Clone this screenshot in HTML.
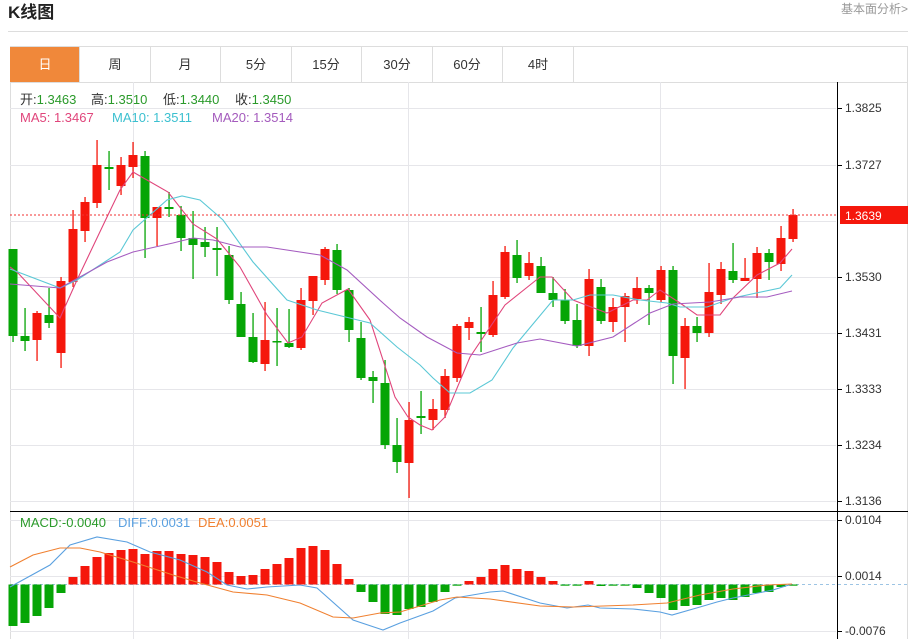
<!DOCTYPE html>
<html><head><meta charset="utf-8"><style>
body{margin:0;background:#fff;width:914px;height:639px;overflow:hidden;font-family:"Liberation Sans","Noto Sans CJK SC",sans-serif;}
svg{position:absolute;left:0;top:0}
</style></head><body>
<svg id="s" width="914" height="639" xmlns="http://www.w3.org/2000/svg" font-family="Liberation Sans, Noto Sans CJK SC, sans-serif">
<text x="8" y="18" font-size="17" font-weight="bold" fill="#222">K线图</text>
<text x="908" y="13" font-size="12" fill="#999" text-anchor="end">基本面分析&gt;</text>
<line x1="8" y1="31.5" x2="908" y2="31.5" stroke="#ddd"/>
<rect x="10.5" y="46.5" width="897" height="600" fill="none" stroke="#ddd"/>
<rect x="10" y="47" width="69" height="35" fill="#f0883a"/>
<g stroke="#ddd"><line x1="10" y1="82.5" x2="908" y2="82.5"/>
<line x1="79.5" y1="47" x2="79.5" y2="82"/><line x1="150.5" y1="47" x2="150.5" y2="82"/><line x1="220.5" y1="47" x2="220.5" y2="82"/><line x1="291.5" y1="47" x2="291.5" y2="82"/><line x1="361.5" y1="47" x2="361.5" y2="82"/><line x1="432.5" y1="47" x2="432.5" y2="82"/><line x1="502.5" y1="47" x2="502.5" y2="82"/><line x1="573.5" y1="47" x2="573.5" y2="82"/></g>
<g font-size="13" fill="#333" text-anchor="middle">
<text x="45" y="69" fill="#fff">日</text><text x="115" y="69">周</text><text x="185" y="69">月</text><text x="256" y="69">5分</text><text x="326" y="69">15分</text><text x="397" y="69">30分</text><text x="467" y="69">60分</text><text x="538" y="69">4时</text></g>
<g id="grid" stroke="#e6e6ea"></g>
<g id="c"></g>
<line x1="10" y1="511.5" x2="908" y2="511.5" stroke="#000"/>
<line x1="837.5" y1="82" x2="837.5" y2="639" stroke="#000"/>
<g font-size="12" fill="#333" id="ax"></g>
<line x1="10" y1="215" x2="836" y2="215" stroke="#f03030" stroke-width="1" stroke-dasharray="2,2"/>
<rect x="840" y="206" width="68" height="18" fill="#f5170c"/>
<text x="845" y="220" font-size="12" fill="#fff">1.3639</text>
<g font-size="13">
<text x="20" y="104" fill="#333">开:<tspan fill="#2a9a2a">1.3463</tspan></text>
<text x="91" y="104" fill="#333">高:<tspan fill="#2a9a2a">1.3510</tspan></text>
<text x="163" y="104" fill="#333">低:<tspan fill="#2a9a2a">1.3440</tspan></text>
<text x="235" y="104" fill="#333">收:<tspan fill="#2a9a2a">1.3450</tspan></text>
<text x="20" y="122" fill="#e0457b">MA5: 1.3467</text><text x="112" y="122" fill="#3cc0d0">MA10: 1.3511</text><text x="212" y="122" fill="#a45bbd">MA20: 1.3514</text>
<text x="20" y="527" fill="#2a9a2a">MACD:-0.0040</text><text x="118" y="527" fill="#5aa0e0">DIFF:0.0031</text><text x="198" y="527" fill="#f08030">DEA:0.0051</text>
</g>
</svg>
<script>
var NS="http://www.w3.org/2000/svg",c=document.getElementById('c'),g=document.getElementById('grid'),ax=document.getElementById('ax');
function el(p,t,a){var e=document.createElementNS(NS,t);for(var k in a)e.setAttribute(k,a[k]);p.appendChild(e);return e;}
[108,165,221,277,333,389,445,501,520,576,631].forEach(function(y){el(g,'line',{x1:10,x2:836,y1:y+.5,y2:y+.5});});
[133,408,660].forEach(function(x){el(g,'line',{x1:x+.5,x2:x+.5,y1:82,y2:639});});
el(g,'line',{x1:10,x2:908,y1:584.5,y2:584.5,stroke:'#9cc4e4','stroke-dasharray':'3,3'});
[[108,'1.3825'],[165,'1.3727'],[277,'1.3530'],[333,'1.3431'],[389,'1.3333'],[445,'1.3234'],[501,'1.3136'],[520,'0.0104'],[576,'0.0014'],[631,'-0.0076']].forEach(function(a){
el(ax,'line',{x1:837,x2:842,y1:a[0]+.5,y2:a[0]+.5,stroke:'#000'});var t=el(ax,'text',{x:845,y:a[0]+4});t.textContent=a[1];});
var K=[[249,336,249,342,'g'],[336,341,308,351,'g'],[313,340,311,361,'r'],[315,323,288,328,'g'],[281,353,277,368,'r'],[229,282,210,287,'r'],[202,231,197,242,'r'],[165,203,140,208,'r'],[167,169,151,190,'g'],[165,186,157,195,'r'],[155,167,142,178,'r'],[156,218,151,258,'g'],[207,218,207,246,'r'],[207,209,192,217,'g'],[215,238,206,251,'g'],[238,245,211,279,'g'],[242,247,227,257,'g'],[248,250,227,276,'g'],[255,300,246,304,'g'],[304,337,292,337,'g'],[337,362,313,363,'g'],[340,364,302,371,'r'],[341,342,308,366,'g'],[343,347,309,348,'g'],[300,348,288,350,'r'],[276,301,276,315,'r'],[249,280,247,285,'r'],[250,290,244,294,'g'],[290,330,288,342,'g'],[338,378,322,380,'g'],[377,381,371,403,'g'],[383,445,360,449,'g'],[445,462,418,473,'g'],[420,463,402,498,'r'],
[416,418,391,434,'g'],[409,420,399,430,'r'],[376,410,369,418,'r'],[326,378,324,382,'r'],[322,328,317,340,'r'],[332,334,307,352,'g'],[295,335,281,337,'r'],[252,297,246,299,'r'],[255,278,240,283,'g'],[263,276,252,280,'r'],[266,293,257,293,'g'],[293,300,277,307,'g'],[300,321,289,324,'g'],[320,346,304,348,'g'],[279,346,269,356,'r'],[287,321,279,324,'g'],[307,322,298,332,'r'],[296,307,293,342,'r'],[288,299,277,304,'r'],[288,293,285,325,'g'],[270,300,266,302,'r'],[270,356,266,384,'g'],[326,358,318,389,'r'],[326,333,317,342,'g'],[292,333,263,337,'r'],[269,295,262,304,'r'],[271,280,243,283,'g'],[278,281,258,281,'r'],[253,279,247,298,'r'],[253,262,249,280,'g'],[238,264,226,271,'r'],[215,239,209,242,'r']];
var R='#f5170c',G='#06a506';
K.forEach(function(k,i){var x=13+12*i,col=k[4]=='r'?R:G;
el(c,'rect',{x:x-0.6,y:k[2],width:1.3,height:k[3]-k[2],fill:col});
el(c,'rect',{x:x-4.5,y:k[0],width:9,height:Math.max(1.5,k[1]-k[0]),fill:col});});
var M=[626,623,616,608,593,577,566,557,553,550,549,554,551,551,554,555,557,562,572,576,575,569,564,558,548,546,550,564,579,592,602,614,615,609,607,602,592,585.5,581,577,569,565,569,571,577,581,585.5,585.5,581,586,585,585,588,593,598,610,606,605,600,598,600,597,593,592,587,585];
var Z=584.5;
M.forEach(function(y,i){var x=13+12*i,col=y<Z?R:G;var t=Math.min(y,Z),h=Math.max(1.2,Math.abs(y-Z));el(c,'rect',{x:x-4.5,y:t,width:9,height:h,fill:col});});
function pl(p,col){el(c,'polyline',{points:p,fill:'none',stroke:col,'stroke-width':1.1});}
pl("10,267 18,273 60,318 77,280 107,217 120,190 133,172 168,192 193,224 217,239 240,267 267,315 288,343 302,337 322,303 348,289 370,320 395,397 408,417 420,425 432,430 445,417 470,357 505,305 540,277 552,277 573,300 607,313 633,300 647,300 660,290 680,303 697,315 720,315 733,298 757,275 780,263 792,249",'#e0457b');
pl("10,269 60,288 77,280 120,252 133,230 167,200 182,196 200,200 223,220 253,262 287,300 317,310 370,323 397,347 420,365 433,378 450,393 470,393 492,380 513,348 553,300 573,300 590,295 613,295 640,300 667,303 680,307 707,307 733,298 780,288 792,275",'#5bc8d6');
pl("10,284 60,288 107,262 133,252 173,243 193,238 213,240 240,247 267,247 320,255 347,270 383,303 400,318 427,337 457,353 480,355 517,343 540,339 577,346 613,337 650,313 673,304 710,302 740,297 767,297 792,291",'#a55cc0');
pl("10,587 50,565 70,545 97,537 127,542 150,552 180,560 207,572 227,585 247,589 267,587 300,585 317,588 353,620 383,630 400,623 433,611 455,598 490,592 503,591 540,603 567,608 588,605 600,608 633,609 660,612 672,615 700,607 717,602 733,598 773,590 792,584",'#5aa0e0');
pl("10,567 33,555 60,548 80,548 100,552 133,562 173,575 200,583 233,592 267,595 300,603 333,617 353,618 380,613 400,612 440,600 457,597 490,599 540,606 573,607 633,605 667,603 700,595 733,589 767,585 792,584",'#f08030');
</script>
</body></html>
